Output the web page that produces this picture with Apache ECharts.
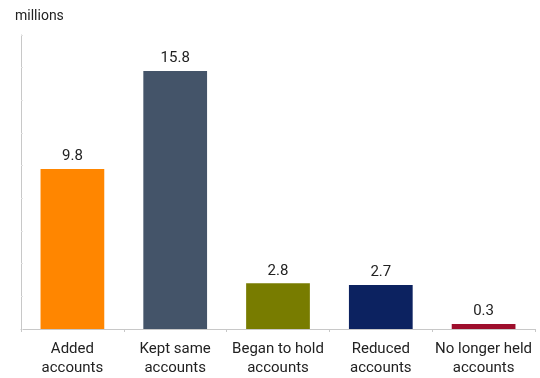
<!DOCTYPE html>
<html>
<head>
<meta charset="utf-8">
<script src="https://cdn.jsdelivr.net/npm/echarts@6/dist/echarts.min.js"></script>
<style>
  html, body { margin: 0; padding: 0; background: #fff; }
  #chart { width: 540px; height: 378px; }
</style>
</head>
<body>
<div id="chart"></div>
<script>
  // categories and values
  var categories = ['Added\naccounts', 'Kept same\naccounts', 'Began to hold\naccounts', 'Reduced\naccounts', 'No longer held\naccounts'];
  var values = [9.8, 15.8, 2.8, 2.7, 0.3];
  var barColors = ['#FF8600', '#445469', '#787C00', '#0C2260', '#9E0E2C'];

  var chart = echarts.init(document.getElementById('chart'));
  chart.setOption({
    animation: false,
    textStyle: { fontFamily: 'Roboto, Arial, sans-serif' },
    grid: { left: 21, right: 5, top: 35, bottom: 48 },
    xAxis: {
      type: 'category',
      data: categories,
      axisLine: { lineStyle: { color: '#c8c8c8', width: 1 } },
      axisTick: { show: true, length: 3, lineStyle: { color: '#c8c8c8' } },
      axisLabel: { color: '#222', fontSize: 15, lineHeight: 19, margin: 11, interval: 0 }
    },
    yAxis: {
      type: 'value',
      min: 0,
      max: 18,
      interval: 2,
      name: 'millions',
      nameLocation: 'end',
      nameGap: 12,
      nameTextStyle: { color: '#222', fontSize: 14, align: 'left', padding: [0, 0, 0, -6] },
      axisLine: { show: true, lineStyle: { color: '#c8c8c8', width: 1 } },
      axisTick: { show: true, inside: true, length: 2, lineStyle: { color: '#e4e4e4' } },
      axisLabel: { show: false },
      splitLine: { show: false }
    },
    series: [{
      type: 'bar',
      barWidth: '62%',
      data: values.map(function (v, i) {
        return { value: v, itemStyle: { color: barColors[i] } };
      }),
      label: {
        show: true,
        position: 'top',
        distance: 5,
        color: '#222',
        fontSize: 15
      }
    }]
  });
</script>
</body>
</html>
